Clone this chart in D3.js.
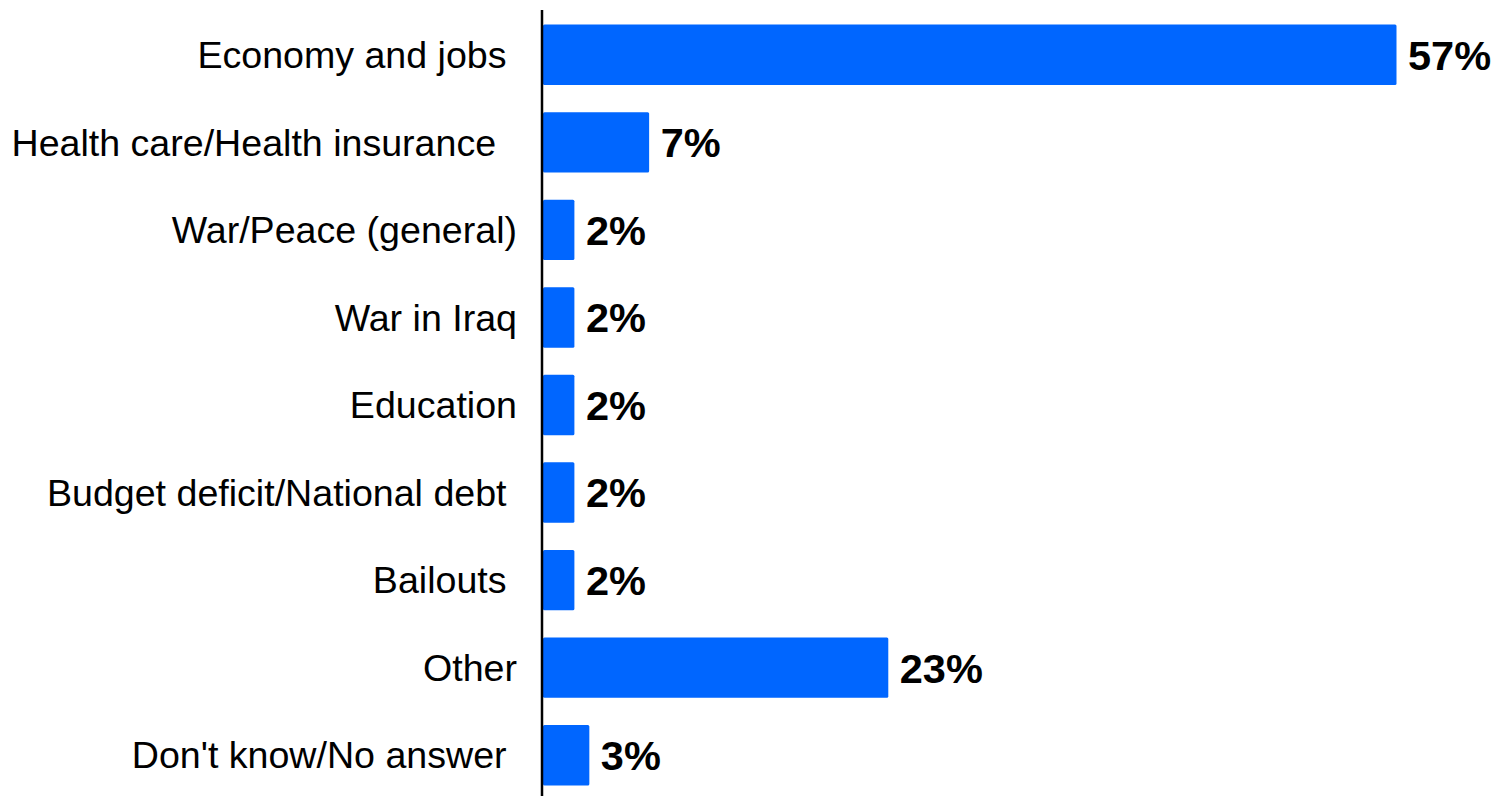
<!DOCTYPE html>
<html>
<head>
<meta charset="utf-8">
<script src="https://cdn.jsdelivr.net/npm/d3@7"></script>
<style>
  html, body { margin: 0; padding: 0; background: #fff; }
  svg { display: block; }
  .cat { font-family: Arial, "Liberation Sans", sans-serif; font-size: 37.6px; fill: #000; white-space: pre; }
  .val { font-family: Arial, "Liberation Sans", sans-serif; font-size: 41.5px; font-weight: bold; fill: #000; }
</style>
</head>
<body>
<script>
// Most important issue — share of responses
const categories = [
  "Economy and jobs ",
  "Health care/Health insurance  ",
  "War/Peace (general)",
  "War in Iraq",
  "Education",
  "Budget deficit/National debt ",
  "Bailouts ",
  "Other",
  "Don't know/No answer "
];
const values = [57, 7, 2, 2, 2, 2, 2, 23, 3];
const valueLabels = ["57%", "7%", "2%", "2%", "2%", "2%", "2%", "23%", "3%"];

const width = 1497, height = 796;
const axisX = 542;

const svg = d3.select("body").append("svg")
  .attr("width", width)
  .attr("height", height);

const x = d3.scaleLinear().domain([0, 57]).range([axisX + 1, 1395]);
const y = d3.scaleBand().domain(categories).range([11, 799]).paddingInner(0.31).paddingOuter(0.155);

// bars
svg.append("g").selectAll("rect")
  .data(values)
  .join("rect")
  .attr("x", x(0))
  .attr("y", (d, i) => y(categories[i]))
  .attr("width", d => x(d) - x(0) + 1.5)
  .attr("height", y.bandwidth())
  .attr("rx", 1.5)
  .attr("fill", "#0066ff");

// value labels
svg.append("g").selectAll("text")
  .data(values)
  .join("text")
  .attr("class", "val")
  .attr("x", d => x(d) + 13)
  .attr("y", (d, i) => y(categories[i]) + y.bandwidth() / 2)
  .attr("dy", "0.36em")
  .text((d, i) => valueLabels[i]);

// category axis
const axis = d3.axisLeft(y).tickSize(0).tickPadding(0);
const gAxis = svg.append("g").attr("transform", `translate(${axisX},0)`).call(axis);
gAxis.select(".domain").remove();
gAxis.selectAll("text")
  .attr("class", "cat")
  .attr("x", -25)
  .attr("dy", "0.35em")
  .attr("font-size", null)
  .attr("font-family", null);

svg.append("line")
  .attr("x1", axisX).attr("x2", axisX)
  .attr("y1", 10).attr("y2", height)
  .attr("stroke", "#000")
  .attr("stroke-width", 2.5);
</script>
</body>
</html>
